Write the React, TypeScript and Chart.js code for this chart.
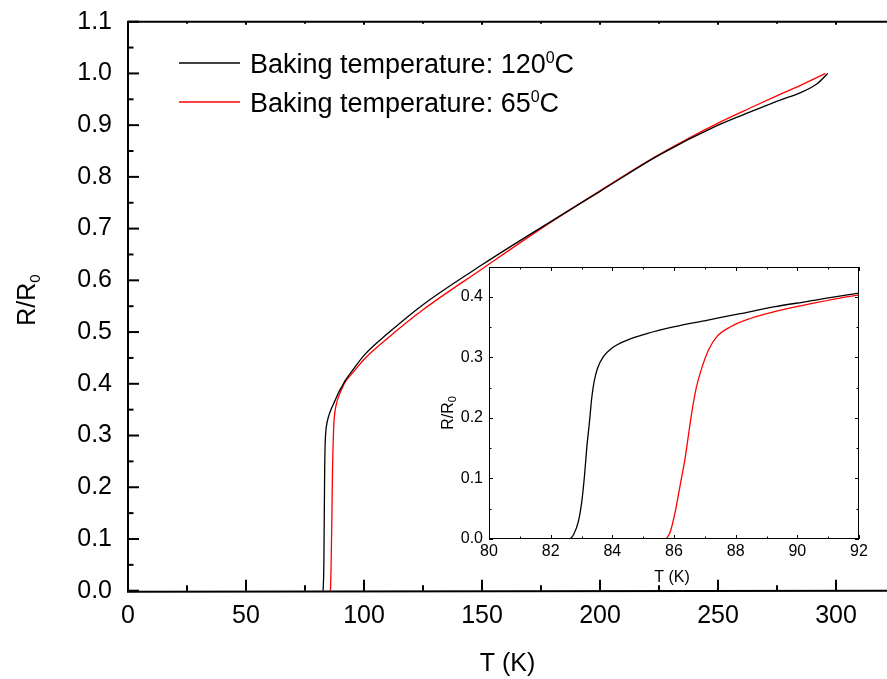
import React, { useEffect, useRef } from "react";
import { Chart, registerables } from "chart.js";

Chart.register(...registerables);

const FONT = '"Liberation Sans", Arial, Helvetica, sans-serif';

// ---- data (T in K, R/R0) ----
const blackT = [82.63, 82.74, 82.9, 83.01, 83.1, 83.17, 83.26, 83.33, 83.41, 83.52, 83.71, 83.98, 84.47, 85.12, 85.98, 87.06, 88.15, 89.23, 90.31, 92.0, 95, 100, 110, 125, 150, 175, 200, 225, 250, 265, 276, 285, 292, 296.5];
const blackR = [0, 0.007, 0.029, 0.062, 0.106, 0.15, 0.194, 0.232, 0.26, 0.282, 0.301, 0.315, 0.328, 0.339, 0.35, 0.361, 0.372, 0.383, 0.392, 0.406, 0.425, 0.455, 0.497, 0.553, 0.63, 0.702, 0.772, 0.842, 0.9, 0.928, 0.948, 0.963, 0.98, 1.0];
const redT = [85.75, 85.88, 86.04, 86.2, 86.36, 86.47, 86.58, 86.72, 86.9, 87.12, 87.39, 87.82, 88.47, 89.23, 90.31, 92.0, 95, 100, 110, 125, 150, 175, 200, 225, 250, 265, 276, 285, 295.5];
const redR = [0, 0.012, 0.045, 0.089, 0.133, 0.172, 0.21, 0.249, 0.282, 0.312, 0.334, 0.35, 0.364, 0.375, 0.387, 0.403, 0.42, 0.447, 0.488, 0.543, 0.622, 0.7, 0.773, 0.843, 0.904, 0.936, 0.959, 0.977, 1.0];

const seriesNames = ["Baking temperature: 120", "Baking temperature: 65"];
const seriesColors = ["#000000", "#ff0000"];

const mainXMajor = [0, 50, 100, 150, 200, 250, 300];
const mainXMinor = [25, 75, 125, 175, 225, 275];
const mainYMajor = [0, 0.1, 0.2, 0.3, 0.4, 0.5, 0.6, 0.7, 0.8, 0.9, 1.0, 1.1];
const mainYMinor = [0.05, 0.15, 0.25, 0.35, 0.45, 0.55, 0.65, 0.75, 0.85, 0.95, 1.05];
const insetXMajor = [80, 82, 84, 86, 88, 90, 92];
const insetXMinor = [81, 83, 85, 87, 89, 91];
const insetYMajor = [0, 0.1, 0.2, 0.3, 0.4];
const insetYMinor = [0.05, 0.15, 0.25, 0.35];

const toPoints = (t: number[], r: number[]) => t.map((x, i) => ({ x, y: r[i] }));

type Seg = { text: string; size: number; dy: number };
function drawSegs(ctx: CanvasRenderingContext2D, segs: Seg[], x: number, y: number, center: boolean) {
  let total = 0;
  const widths = segs.map((s) => {
    ctx.font = `${s.size}px ${FONT}`;
    const w = ctx.measureText(s.text).width;
    total += w;
    return w;
  });
  let cx = center ? x - total / 2 : x;
  ctx.textAlign = "left";
  ctx.textBaseline = "alphabetic";
  segs.forEach((s, i) => {
    ctx.font = `${s.size}px ${FONT}`;
    ctx.fillText(s.text, cx, y + s.dy);
    cx += widths[i];
  });
}

function makeDatasets() {
  return [
    { label: seriesNames[0], data: toPoints(blackT, blackR), borderColor: seriesColors[0], backgroundColor: seriesColors[0], borderWidth: 1.3, pointRadius: 0, cubicInterpolationMode: "monotone" as const, fill: false },
    { label: seriesNames[1], data: toPoints(redT, redR), borderColor: seriesColors[1], backgroundColor: seriesColors[1], borderWidth: 1.3, pointRadius: 0, cubicInterpolationMode: "monotone" as const, fill: false },
  ];
}

const mainDecor = {
  id: "mainDecor",
  afterDraw(chart: any) {
    const { ctx, chartArea: a, scales } = chart;
    const x = scales.x, y = scales.y;
    ctx.save();
    ctx.strokeStyle = "#000";
    ctx.fillStyle = "#000";
    ctx.lineWidth = 2;
    ctx.beginPath();
    ctx.moveTo(a.left, a.top);
    ctx.lineTo(a.right, a.top);
    ctx.moveTo(a.left, a.top - 1);
    ctx.lineTo(a.left, a.bottom + 1);
    ctx.lineTo(a.right, a.bottom);
    ctx.stroke();
    const xt = (vals: number[], lenB: number, lenT: number) => {
      vals.forEach((v) => {
        const p = x.getPixelForValue(v);
        ctx.beginPath();
        ctx.moveTo(p, a.bottom);
        ctx.lineTo(p, a.bottom - lenB);
        ctx.moveTo(p, a.top);
        ctx.lineTo(p, a.top + lenT);
        ctx.stroke();
      });
    };
    const yt = (vals: number[], len: number) => {
      vals.forEach((v) => {
        const p = y.getPixelForValue(v);
        ctx.beginPath();
        ctx.moveTo(a.left, p);
        ctx.lineTo(a.left + len, p);
        ctx.stroke();
      });
    };
    xt(mainXMajor, 11, 3);
    xt(mainXMinor, 5.5, 2);
    yt(mainYMajor, 11);
    yt(mainYMinor, 5.5);

    // legend
    const rows = [
      { y: 63, name: seriesNames[0], color: seriesColors[0] },
      { y: 102, name: seriesNames[1], color: seriesColors[1] },
    ];
    rows.forEach((r) => {
      ctx.strokeStyle = r.color;
      ctx.lineWidth = 1.3;
      ctx.beginPath();
      ctx.moveTo(179, r.y);
      ctx.lineTo(240, r.y);
      ctx.stroke();
      ctx.fillStyle = "#000";
      drawSegs(ctx, [
        { text: r.name, size: 27, dy: 0 },
        { text: "0", size: 16, dy: -10 },
        { text: "C", size: 27, dy: 0 },
      ], 250, r.y + 9.5, false);
    });

    // axis titles
    ctx.fillStyle = "#000";
    drawSegs(ctx, [{ text: "T (K)", size: 25, dy: 0 }], (a.left + a.right) / 2, 671, true);
    ctx.translate(35, 300);
    ctx.rotate(-Math.PI / 2);
    drawSegs(ctx, [
      { text: "R/R", size: 25, dy: 0 },
      { text: "0", size: 15, dy: 5 },
    ], 0, 0, true);
    ctx.restore();
  },
};

const insetDecor = {
  id: "insetDecor",
  beforeDraw(chart: any) {
    const { ctx, chartArea: a } = chart;
    ctx.save();
    ctx.fillStyle = "#fff";
    ctx.fillRect(a.left, a.top, a.right - a.left, a.bottom - a.top);
    ctx.restore();
  },
  afterDraw(chart: any) {
    const { ctx, chartArea: a, scales } = chart;
    const x = scales.x, y = scales.y;
    ctx.save();
    ctx.strokeStyle = "#000";
    ctx.lineWidth = 1;
    ctx.strokeRect(a.left + 0.5, a.top + 0.5, a.right - a.left - 1, a.bottom - a.top - 1);
    const xt = (vals: number[], len: number) => {
      vals.forEach((v) => {
        const p = Math.round(x.getPixelForValue(v)) + 0.5;
        ctx.beginPath();
        ctx.moveTo(p, a.bottom);
        ctx.lineTo(p, a.bottom - len);
        ctx.moveTo(p, a.top);
        ctx.lineTo(p, a.top + len);
        ctx.stroke();
      });
    };
    const yt = (vals: number[], len: number) => {
      vals.forEach((v) => {
        const p = Math.round(y.getPixelForValue(v)) + 0.5;
        ctx.beginPath();
        ctx.moveTo(a.left, p);
        ctx.lineTo(a.left + len, p);
        ctx.moveTo(a.right, p);
        ctx.lineTo(a.right - len, p);
        ctx.stroke();
      });
    };
    xt(insetXMajor, 4);
    xt(insetXMinor, 2.5);
    yt(insetYMajor, 4);
    yt(insetYMinor, 2.5);
    ctx.fillStyle = "#000";
    drawSegs(ctx, [{ text: "T (K)", size: 16, dy: 0 }], (a.left + a.right) / 2 - 2, a.bottom + 43, true);
    ctx.translate(a.left - 36, (a.top + a.bottom) / 2 + 10);
    ctx.rotate(-Math.PI / 2);
    drawSegs(ctx, [
      { text: "R/R", size: 16, dy: 0 },
      { text: "0", size: 11, dy: 3 },
    ], 0, 0, true);
    ctx.restore();
  },
};

export default function App() {
  const mainRef = useRef<HTMLCanvasElement>(null);
  const insetRef = useRef<HTMLCanvasElement>(null);

  useEffect(() => {
    const mainChart = new Chart(mainRef.current as HTMLCanvasElement, {
      type: "line",
      data: { datasets: makeDatasets() as any },
      options: {
        animation: false,
        responsive: false,
        layout: { padding: { top: 21.7, left: 0, right: 0, bottom: 0 } },
        plugins: { legend: { display: false }, tooltip: { enabled: false } },
        scales: {
          x: {
            type: "linear",
            min: 0,
            max: 321.6,
            grid: { display: false, drawTicks: false },
            border: { display: false },
            ticks: { font: { family: FONT, size: 25 }, color: "#000", padding: 10, maxRotation: 0, autoSkip: false, callback: (v: any) => String(v) },
            afterBuildTicks: (s: any) => { s.ticks = mainXMajor.map((value) => ({ value })); },
            afterFit: (s: any) => { s.height = 88.3; s.paddingLeft = 0; s.paddingRight = 0; },
          },
          y: {
            type: "linear",
            min: 0,
            max: 1.1,
            grid: { display: false, drawTicks: false },
            border: { display: false },
            ticks: { font: { family: FONT, size: 25 }, color: "#000", padding: 16, autoSkip: false, callback: (v: any) => Number(v).toFixed(1) },
            afterBuildTicks: (s: any) => { s.ticks = mainYMajor.map((value) => ({ value })); },
            afterFit: (s: any) => { s.width = 128; s.paddingTop = 0; s.paddingBottom = 0; },
          },
        },
      } as any,
      plugins: [mainDecor],
    });

    const insetChart = new Chart(insetRef.current as HTMLCanvasElement, {
      type: "line",
      data: { datasets: makeDatasets() as any },
      options: {
        animation: false,
        responsive: false,
        layout: { padding: { top: 17, left: 0, right: 21, bottom: 0 } },
        plugins: { legend: { display: false }, tooltip: { enabled: false } },
        scales: {
          x: {
            type: "linear",
            min: 80,
            max: 92,
            grid: { display: false, drawTicks: false },
            border: { display: false },
            ticks: { font: { family: FONT, size: 16 }, color: "#000", padding: 3, maxRotation: 0, autoSkip: false, callback: (v: any) => String(v) },
            afterBuildTicks: (s: any) => { s.ticks = insetXMajor.map((value) => ({ value })); },
            afterFit: (s: any) => { s.height = 56; s.paddingLeft = 0; s.paddingRight = 0; },
          },
          y: {
            type: "linear",
            min: 0,
            max: 0.449,
            grid: { display: false, drawTicks: false },
            border: { display: false },
            ticks: { font: { family: FONT, size: 16 }, color: "#000", padding: 6, autoSkip: false, callback: (v: any) => Number(v).toFixed(1) },
            afterBuildTicks: (s: any) => { s.ticks = insetYMajor.map((value) => ({ value })); },
            afterFit: (s: any) => { s.width = 59; s.paddingTop = 0; s.paddingBottom = 0; },
          },
        },
      } as any,
      plugins: [insetDecor],
    });

    return () => {
      mainChart.destroy();
      insetChart.destroy();
    };
  }, []);

  return (
    <div style={{ position: "fixed", left: 0, top: 0, width: 887, height: 679, background: "#fff", overflow: "hidden" }}>
      <canvas ref={mainRef} width={887} height={679} style={{ position: "absolute", left: 0, top: 0, width: 887, height: 679 }} />
      <canvas ref={insetRef} width={450} height={345} style={{ position: "absolute", left: 430, top: 250, width: 450, height: 345 }} />
    </div>
  );
}
